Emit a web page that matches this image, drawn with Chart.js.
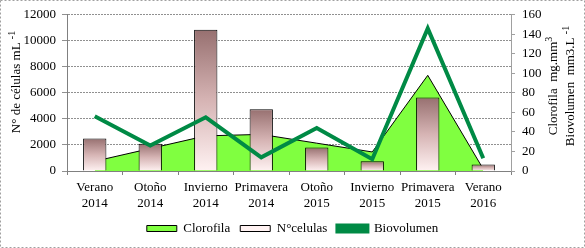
<!DOCTYPE html>
<html>
<head>
<meta charset="utf-8">
<script src="https://cdn.jsdelivr.net/npm/chart.js@4"></script>
<style>
    html, body { margin: 0; padding: 0; background: #fff; }
    canvas { display: block; }
</style>
</head>
<body>
<canvas id="chart" width="585" height="248"></canvas>
<script>
// Data
const seasons = [
    ['Verano', '2014'], ['Otoño', '2014'], ['Invierno', '2014'], ['Primavera', '2014'],
    ['Otoño', '2015'], ['Invierno', '2015'], ['Primavera', '2015'], ['Verano', '2016']
];
const clorofila = [10, 23, 36, 37.5, 28.5, 19.5, 98, 2];
const celulas = [2500, 2100, 10850, 4750, 1800, 750, 5650, 500];
const biovolumen = [56, 26, 55, 14, 44, 12, 146, 13];

const leftMax = 12000, leftStep = 2000;
const rightMax = 160, rightStep = 20;

const leftTitle = [{ text: 'N° de células mL ' }, { text: '-1', sup: true }];
const rightTitle1 = [{ text: 'Clorofila  mg.mm' }, { text: '3', sup: true }];
const rightTitle2 = [{ text: 'Biovolumen  mm3.L ' }, { text: '-1', sup: true }];

const FONT = '"Liberation Serif", "Times New Roman", serif';
const BIO_GREEN = '#008a45';

// Draw a rotated (bottom-to-top) title made of normal and superscript parts
function drawVertical(ctx, cx, cy, parts) {
    ctx.save();
    ctx.translate(cx, cy);
    ctx.rotate(-Math.PI / 2);
    let total = 0;
    parts.forEach(p => {
        ctx.font = (p.sup ? '10px ' : '13px ') + FONT;
        p.w = ctx.measureText(p.text).width;
        total += p.w;
    });
    let x = -total / 2;
    ctx.textBaseline = 'middle';
    ctx.fillStyle = '#000';
    parts.forEach(p => {
        ctx.font = (p.sup ? '10px ' : '13px ') + FONT;
        ctx.fillText(p.text, x, p.sup ? -5 : 0);
        x += p.w;
    });
    ctx.restore();
}

const decorations = {
    id: 'decorations',
    beforeDraw(chart) {
        const ctx = chart.ctx;
        ctx.save();
        ctx.fillStyle = '#fff';
        ctx.fillRect(0, 0, chart.width, chart.height);
        ctx.strokeStyle = '#a0a0a0';
        ctx.setLineDash([2, 2]);
        ctx.lineWidth = 1;
        ctx.strokeRect(0.5, 0.5, chart.width - 1, chart.height - 1);
        ctx.restore();
    },
    afterDraw(chart) {
        const ctx = chart.ctx;
        drawVertical(ctx, 17, 82, leftTitle);
        drawVertical(ctx, 554, 86, rightTitle1);
        drawVertical(ctx, 571, 86, rightTitle2);
    }
};

function barGradient(context) {
    const chart = context.chart;
    if (!chart.chartArea || context.type !== 'data') return '#c9acac';
    const y = chart.scales.y;
    const top = y.getPixelForValue(celulas[context.dataIndex]);
    const bottom = y.getPixelForValue(0);
    const g = chart.ctx.createLinearGradient(0, top, 0, bottom);
    g.addColorStop(0, '#977070');
    g.addColorStop(0.5, '#d6b4b4');
    g.addColorStop(1, '#fff2f2');
    return g;
}

const ctx = document.getElementById('chart').getContext('2d');
new Chart(ctx, {
    type: 'bar',
    data: {
        labels: seasons,
        datasets: [
            {
                type: 'line',
                label: 'Clorofila',
                data: clorofila,
                yAxisID: 'y1',
                fill: 'origin',
                backgroundColor: '#80ff40',
                borderColor: '#000',
                borderWidth: 1,
                pointRadius: 0,
                tension: 0,
                order: 2
            },
            {
                label: 'N°celulas',
                data: celulas,
                yAxisID: 'y',
                backgroundColor: barGradient,
                borderColor: '#000',
                borderWidth: 1,
                categoryPercentage: 1,
                barPercentage: 0.42,
                order: 1
            },
            {
                type: 'line',
                label: 'Biovolumen',
                data: biovolumen,
                yAxisID: 'y1',
                fill: false,
                backgroundColor: BIO_GREEN,
                borderColor: BIO_GREEN,
                borderWidth: 4,
                pointRadius: 0,
                tension: 0,
                order: 0
            }
        ]
    },
    options: {
        responsive: false,
        animation: false,
        layout: { padding: { top: 13, left: 0, right: 0, bottom: 3 } },
        plugins: {
            tooltip: { enabled: false },
            legend: {
                position: 'bottom',
                labels: {
                    color: '#000',
                    font: { family: FONT, size: 13 },
                    boxWidth: 30,
                    boxHeight: 6,
                    padding: 10,
                    sort: (a, b) => a.datasetIndex - b.datasetIndex
                }
            }
        },
        scales: {
            x: {
                offset: true,
                grid: {
                    display: true,
                    drawOnChartArea: false,
                    offset: true,
                    tickLength: 4,
                    color: '#808080'
                },
                border: { color: '#808080' },
                ticks: {
                    color: '#000',
                    font: { family: FONT, size: 13, lineHeight: 1.2 },
                    padding: 5,
                    maxRotation: 0,
                    autoSkip: false
                },
                afterFit: scale => { scale.height = 41; }
            },
            y: {
                position: 'left',
                min: 0,
                max: leftMax,
                ticks: {
                    stepSize: leftStep,
                    color: '#000',
                    font: { family: FONT, size: 13 },
                    padding: 6,
                    callback: v => String(v)
                },
                grid: {
                    color: '#909090',
                    tickLength: 5,
                    tickBorderDash: []
                },
                border: { color: '#808080', dash: [2, 1] },
                afterFit: scale => { scale.width = 67; }
            },
            y1: {
                position: 'right',
                min: 0,
                max: rightMax,
                ticks: {
                    stepSize: rightStep,
                    color: '#000',
                    font: { family: FONT, size: 13 },
                    padding: 7
                },
                grid: {
                    drawOnChartArea: false,
                    tickLength: 4,
                    color: '#a0a0a0'
                },
                border: { color: '#a0a0a0' },
                afterFit: scale => { scale.width = 74; }
            }
        }
    },
    plugins: [decorations]
});
</script>
</body>
</html>
